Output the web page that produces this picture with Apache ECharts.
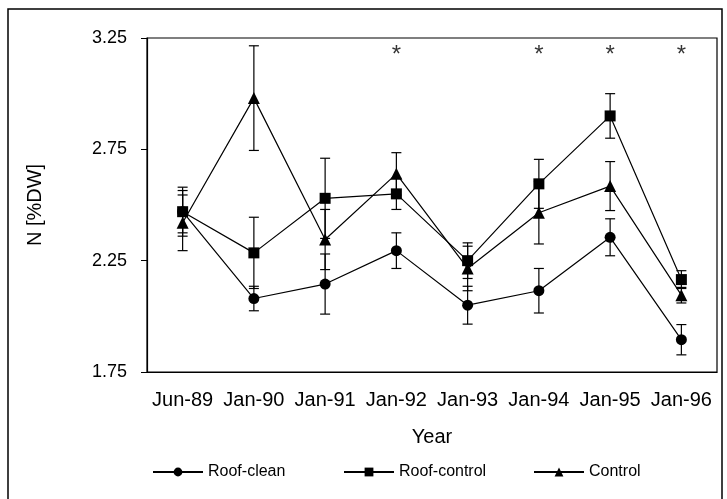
<!DOCTYPE html>
<html>
<head>
<meta charset="utf-8">
<script src="https://cdn.jsdelivr.net/npm/echarts@6/dist/echarts.min.js"></script>
<style>html,body{margin:0;padding:0;background:#fff}#c{width:727px;height:499px}</style>
</head>
<body>
<div id="c"></div>
<script>
const categories = ['Jun-89','Jan-90','Jan-91','Jan-92','Jan-93','Jan-94','Jan-95','Jan-96'];
const yTicks = [1.75, 2.25, 2.75, 3.25];
const roofClean = [2.47, 2.08, 2.145, 2.295, 2.05, 2.115, 2.355, 1.895];
const roofCleanErr = [0.11, 0.055, 0.135, 0.08, 0.085, 0.10, 0.083, 0.068];
const roofControl = [2.47, 2.285, 2.53, 2.55, 2.25, 2.595, 2.90, 2.165];
const roofControlErr = [0.095, 0.16, 0.18, 0.07, 0.08, 0.11, 0.10, 0.04];
const control = [2.42, 2.98, 2.345, 2.64, 2.215, 2.465, 2.585, 2.095];
const controlErr = [0.125, 0.235, 0.135, 0.095, 0.10, 0.14, 0.11, 0.035];
const sigCategories = ['Jan-92','Jan-94','Jan-95','Jan-96'];
const sigLevel = 3.19;

const FONT = 'Liberation Sans, Arial, sans-serif';

function errData(vals, errs){
  return vals.map((v,i)=>[i, v-errs[i], v+errs[i]]);
}
function errSeries(vals, errs){
  return {
    type:'custom', silent:true, z:1,
    data: errData(vals, errs),
    renderItem: function(params, api){
      const x = api.value(0);
      const lo = api.coord([x, api.value(1)]);
      const hi = api.coord([x, api.value(2)]);
      const hw = 5;
      const st = {stroke:'#000', lineWidth:1.2};
      return {type:'group', children:[
        {type:'line', shape:{x1:lo[0],y1:lo[1],x2:hi[0],y2:hi[1]}, style:st},
        {type:'line', shape:{x1:lo[0]-hw,y1:lo[1],x2:lo[0]+hw,y2:lo[1]}, style:st},
        {type:'line', shape:{x1:hi[0]-hw,y1:hi[1],x2:hi[0]+hw,y2:hi[1]}, style:st}
      ]};
    }
  };
}
function lineSeries(name, vals, symbol, size){
  return {
    name, type:'line', data: vals, symbol, symbolSize: size, z:3,
    lineStyle:{color:'#000', width:1.2},
    itemStyle:{color:'#000'},
    emphasis:{disabled:true}, animation:false
  };
}

const chart = echarts.init(document.getElementById('c'), null, {renderer:'canvas'});
const legendBase = {
  top: 459, itemWidth: 50, itemHeight: 11, itemGap: 10,
  textStyle:{fontFamily:FONT, fontSize:16, color:'#000'},
  selectedMode:false
};
chart.setOption({
  animation:false,
  backgroundColor:'#fff',
  textStyle:{fontFamily:FONT},
  grid:{left:147, right:10, top:38, bottom:127, show:true, borderColor:'#000', borderWidth:1.2, backgroundColor:'transparent'},
  graphic:[{type:'rect', shape:{x:8, y:9, width:714, height:520}, style:{fill:'none', stroke:'#000', lineWidth:1.5}, silent:true}],
  legend:[
    Object.assign({}, legendBase, {left:147, data:['Roof-clean']}),
    Object.assign({}, legendBase, {left:338, data:['Roof-control']}),
    Object.assign({}, legendBase, {left:528, data:['Control']})
  ],
  xAxis:{
    type:'category', data:categories, boundaryGap:true,
    name:'Year', nameLocation:'middle', nameGap:55,
    nameTextStyle:{fontFamily:FONT, fontSize:20, color:'#000'},
    axisLine:{lineStyle:{color:'#000', width:1.2}},
    axisTick:{alignWithLabel:true, length:5, lineStyle:{color:'#000'}},
    axisLabel:{fontFamily:FONT, fontSize:20, color:'#000', margin:18, interval:0},
    splitLine:{show:false}
  },
  yAxis:{
    type:'value', min:1.75, max:3.25,
    name:'N [%DW]', nameLocation:'middle', nameGap:102, nameRotate:90,
    nameTextStyle:{fontFamily:FONT, fontSize:20, color:'#000'},
    axisLine:{show:true, lineStyle:{color:'#000', width:1.2}},
    axisTick:{show:true, length:6, customValues:yTicks, lineStyle:{color:'#000'}},
    axisLabel:{fontFamily:FONT, fontSize:18, color:'#000', margin:20, customValues:yTicks, formatter:v=>v.toFixed(2)},
    splitLine:{show:false}
  },
  series:[
    errSeries(roofClean, roofCleanErr),
    errSeries(roofControl, roofControlErr),
    errSeries(control, controlErr),
    lineSeries('Roof-clean', roofClean, 'circle', 11),
    lineSeries('Roof-control', roofControl, 'rect', 11),
    lineSeries('Control', control, 'triangle', 12),
    {
      type:'scatter', silent:true, symbolSize:1, itemStyle:{color:'transparent'},
      data: sigCategories.map(c=>[c, sigLevel]),
      label:{show:true, position:'inside', offset:[0,4], formatter:'*', fontFamily:FONT, fontSize:24, color:'#000'}
    }
  ]
});
</script>
</body>
</html>
